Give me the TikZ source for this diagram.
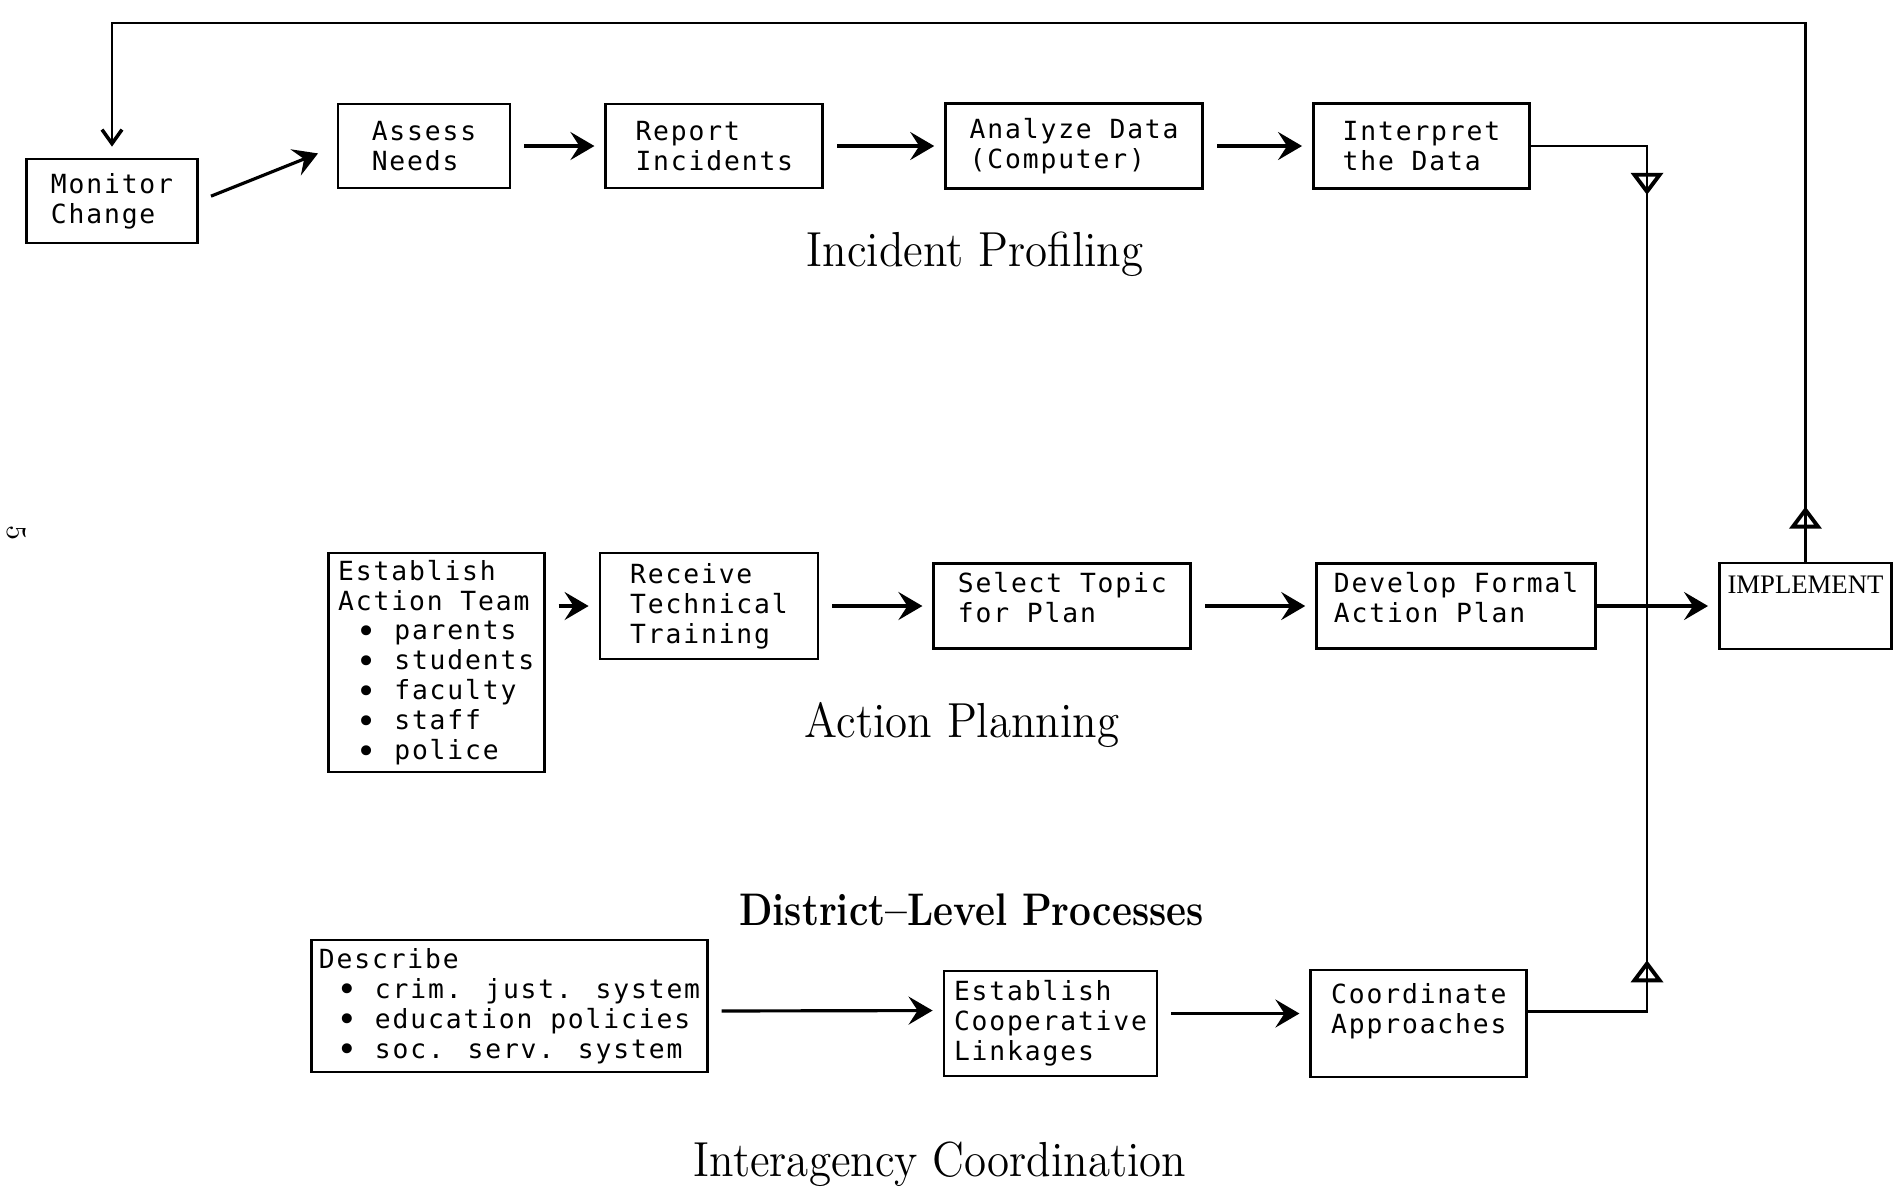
\documentclass[tikz,border=0pt]{standalone}
\usepackage{fontspec}
\newfontfamily\boxfont[LetterSpace=7]{DejaVu Sans Mono}
\newfontfamily\capsfont{Liberation Serif}
\usetikzlibrary{arrows.meta,positioning,decorations.markings}

\newcommand{\squeeze}[1]{\scalebox{0.915}[1]{#1}}
\newcommand{\blt}{\raisebox{-0.25ex}{\scalebox{1.3}{\textbullet}}}

\begin{document}
\begin{tikzpicture}[font=\boxfont\fontsize{7.5}{8.5}\selectfont,
  box/.style={rectangle,draw,thick,align=left,inner sep=2pt},
  arr/.style={-{Stealth[length=2.4mm,width=2.8mm,inset=0.9mm]},line width=0.9pt,shorten <=1.3mm,shorten >=1mm},
  feed/.style={line width=0.6pt},
  lbl/.style={font=\rmfamily\fontsize{14}{16}\selectfont,anchor=base},
  tri/.style={postaction={decorate},decoration={markings,
    mark=at position #1 with {\arrow{Triangle[open,length=2.2mm,width=3.2mm,line width=1.1pt]}}}}]
\useasboundingbox (0,0) rectangle (19.03,-11.97);

% incident profiling row
\node[box,minimum width=1.71cm,minimum height=0.84cm] (mon) at (1.12,-2.01) {Monitor\\Change};
\node[box,minimum width=1.72cm,minimum height=0.84cm] (ass) at (4.24,-1.46) {Assess\\Needs};
\node[box,minimum width=2.17cm,minimum height=0.84cm,right=9.3mm of ass] (rep) {Report\\Incidents};
\node[box,minimum width=2.57cm,minimum height=0.85cm,right=12mm of rep] (ana) {Analyze Data\\(Computer)};
\node[box,minimum width=2.16cm,minimum height=0.85cm,right=10.8mm of ana] (itp) {Interpret\\the Data};
\node[lbl] (lprof) at (9.75,-2.66) {\squeeze{Incident Profiling}};

% action planning row
\node[box,minimum width=2.18cm,minimum height=1.06cm] (rec) at (7.09,-6.06) {Receive\\Technical\\Training};
\node[box,minimum width=2.16cm,minimum height=2.17cm,left=5.3mm of rec.north west,anchor=north east] (eat)
  {Establish\\Action Team\\~\blt~parents\\~\blt~students\\~\blt~faculty\\~\blt~staff\\~\blt~police};
\node[box,minimum width=2.57cm,minimum height=0.85cm,text depth=5pt,right=11.3mm of rec] (sel) {Select Topic\\for Plan};
\node[box,minimum width=2.79cm,minimum height=0.85cm,text depth=5pt,right=12.3mm of sel] (dev) {Develop Formal\\Action Plan};
\node[box,minimum width=1.72cm,minimum height=0.86cm,text depth=12pt,right=12.1mm of dev,
  font=\capsfont\fontsize{7.6}{9}\selectfont] (impl) {IMPLEMENT};
\node[lbl] (lplan) at (9.62,-7.37) {\squeeze{Action Planning}};

\node[lbl,font=\rmfamily\bfseries\fontsize{13}{15}\selectfont] (ldist) at (9.715,-9.25)
  {\scalebox{0.85}[1]{District--Level Processes}};

% interagency coordination row
\node[box,minimum width=3.91cm,minimum height=1.32cm] (dsc) at (5.095,-10.06)
  {Describe\\~\blt~crim. just. system\\~\blt~education policies\\~\blt~soc. serv. system};
\node[box,minimum width=2.13cm,minimum height=1.05cm] (lnk) at (10.505,-10.235) {Establish\\Cooperative\\Linkages};
\node[box,minimum width=2.16cm,minimum height=1.07cm,text depth=8.5pt,right=15.1mm of lnk] (crd) {Coordinate\\Approaches};
\node[lbl] (lcoord) at (9.40,-11.76) {\squeeze{Interagency Coordination}};

\node[font=\rmfamily\fontsize{8}{9}\selectfont,rotate=-90] (pnum) at (0.17,-5.33) {5};

% flow arrows
\draw[arr,shorten >=2mm] (mon.east) -- (ass.west);
\draw[arr] (ass) -- (rep);
\draw[arr] (rep) -- (ana);
\draw[arr] (ana) -- (itp);
\draw[arr] (eat.east |- rec) -- (rec);
\draw[arr] (rec) -- (sel);
\draw[arr] (sel) -- (dev);
\draw[arr,shorten <=0pt] (dev) -- (impl);
\draw[arr] ([yshift=-0.5mm]dsc.east) -- ([yshift=1.3mm]lnk.west);
\draw[arr] ([yshift=1mm]lnk.east) -- ([yshift=1mm]crd.west);

% results feed into implementation
\coordinate (jx) at (16.47,0);
\coordinate (jn) at (dev.east -| jx);
\draw[feed,tri=1.65cm] (itp.east) -| (jn);
\draw[feed,tri=1.7cm] ([yshift=1.2mm]crd.east) -| (jn);

% feedback loop back to monitoring
\coordinate (fbk) at ([yshift=13.5mm]mon.north);
\draw[feed,tri=0.55cm,-{Straight Barb[length=1.4mm,width=2mm,line width=1pt]},shorten >=1.1mm]
  (impl.north) |- (fbk) -- (mon.north);
\end{tikzpicture}
\end{document}
